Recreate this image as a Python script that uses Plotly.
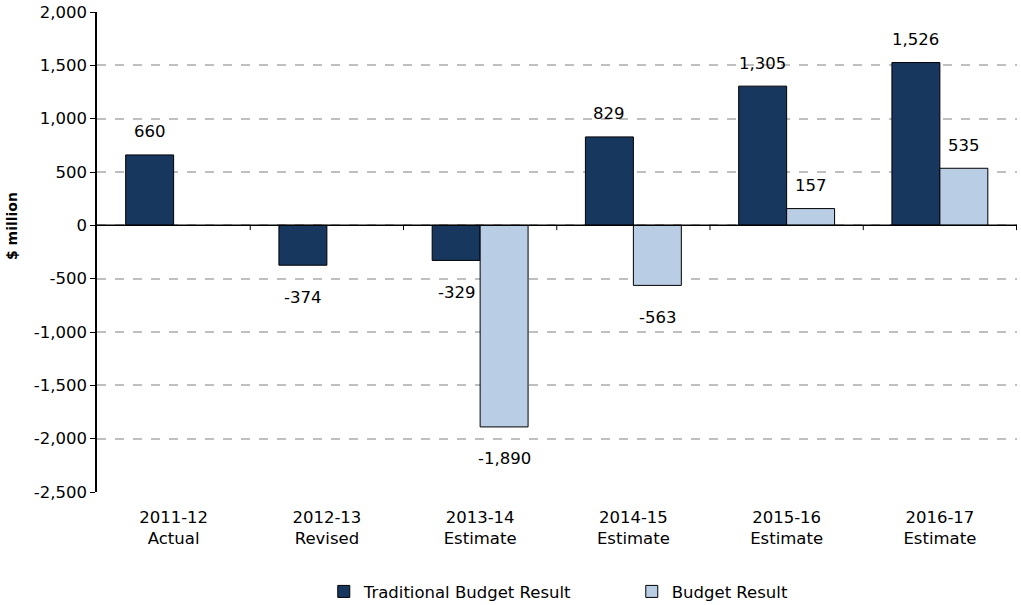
import plotly.graph_objects as go

categories = ["2011-12<br>Actual", "2012-13<br>Revised", "2013-14<br>Estimate",
              "2014-15<br>Estimate", "2015-16<br>Estimate", "2016-17<br>Estimate"]
traditional = [660, -374, -329, 829, 1305, 1526]
budget = [None, None, -1890, -563, 157, 535]
y_ticks = [2000, 1500, 1000, 500, 0, -500, -1000, -1500, -2000, -2500]
y_tick_labels = ["2,000", "1,500", "1,000", "500", "0", "-500", "-1,000", "-1,500", "-2,000", "-2,500"]

FONT = "DejaVu Sans"
FS = 16.5
DARK = "#17375E"
LIGHT = "#B9CDE5"

fig = go.Figure()
fig.add_trace(go.Bar(x=categories, y=traditional, name="Traditional Budget Result",
                     marker=dict(color=DARK, line=dict(color="black", width=1))))
fig.add_trace(go.Bar(x=categories, y=budget, name="Budget Result",
                     marker=dict(color=LIGHT, line=dict(color="black", width=1))))

annotations = []
for series, shift in ((traditional, -24), (budget, 24)):
    for cat, v in zip(categories, series):
        if v is None:
            continue
        annotations.append(dict(
            x=cat, y=v, xref="x", yref="y", text=f"{v:,}", showarrow=False,
            xshift=shift, yshift=23 if v >= 0 else -32,
            font=dict(family=FONT, size=FS, color="black")))

annotations.append(dict(text="<b>$ million</b>", xref="paper", yref="paper",
                        x=-0.093, y=0.555, xanchor="center", yanchor="middle",
                        textangle=-90, showarrow=False,
                        font=dict(family=FONT, size=14, color="black")))

# category boundary ticks on the zero line
shapes = [dict(type="line", xref="x", yref="y", x0=i - 0.5, x1=i - 0.5,
               y0=0, y1=-45, line=dict(color="black", width=1))
          for i in range(1, len(categories) + 1)]
shapes.append(dict(type="line", xref="paper", yref="y", x0=0, x1=1, y0=0, y1=0,
                   line=dict(color="black", width=1.5)))

fig.update_layout(
    width=1021, height=605,
    margin=dict(l=97, r=4, t=12, b=113, autoexpand=False),
    paper_bgcolor="white", plot_bgcolor="white",
    barmode="group", bargap=0.374, bargroupgap=0,
    font=dict(family=FONT, size=FS, color="black"),
    annotations=annotations,
    shapes=shapes,
    legend=dict(orientation="h", x=0.2465, xanchor="left",
                yref="container", y=0.022, yanchor="middle",
                font=dict(family=FONT, size=FS, color="black"),
                entrywidth=263, itemwidth=30, traceorder="normal"),
    xaxis=dict(showline=False, ticks="", showgrid=False, automargin=False,
               tickfont=dict(family=FONT, size=FS), ticklabelstandoff=13),
    yaxis=dict(range=[-2500, 2000], tickvals=y_ticks, ticktext=y_tick_labels,
               showline=True, linecolor="black", linewidth=1.5, automargin=False,
               ticks="outside", ticklen=5, tickcolor="black",
               showgrid=True, gridcolor="#BFBFBF", gridwidth=1.5, griddash="dash",
               zeroline=False, tickfont=dict(family=FONT, size=FS)),
)

fig.write_html("out.html", config={"displayModeBar": False},
               post_script="document.body.style.margin='0';")
